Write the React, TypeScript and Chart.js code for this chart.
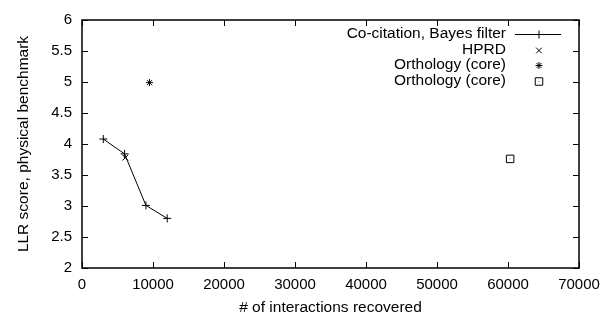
import React, { useEffect, useRef } from 'react';
import { Chart, registerables } from 'chart.js';
import { drawPoint } from 'chart.js/helpers';

Chart.register(...registerables);

const coCitationX = [3000, 6000, 9000, 12000];
const coCitationY = [4.08, 3.84, 3.01, 2.8];
const hprdX = [6100];
const hprdY = [3.78];
const orthoStarX = [9500];
const orthoStarY = [4.99];
const orthoBoxX = [60300];
const orthoBoxY = [3.76];
const seriesLabels = ['Co-citation, Bayes filter', 'HPRD', 'Orthology (core)', 'Orthology (core)'];
const seriesStyles = ['cross', 'crossRot', 'star', 'rect'];
const seriesRadius = [4, 4, 3.5, 5.3];
const xTickValues = [0, 10000, 20000, 30000, 40000, 50000, 60000, 70000];
const yTickValues = [2, 2.5, 3, 3.5, 4, 4.5, 5, 5.5, 6];
const xTitle = '# of interactions recovered';
const yTitle = 'LLR score, physical benchmark';

const FONT = '"Liberation Sans", Arial, Helvetica, sans-serif';

const zip = (xs: number[], ys: number[]) => xs.map((x, i) => ({ x, y: ys[i] }));

const framePlugin = {
  id: 'gnuplotFrame',
  afterDatasetsDraw(chart: any) {
    const { ctx, chartArea, scales } = chart;
    const { left, right, top, bottom } = chartArea;
    ctx.save();
    ctx.strokeStyle = '#000';
    ctx.lineWidth = 1;
    const tl = 6;
    ctx.beginPath();
    xTickValues.forEach((v) => {
      const px = Math.round(scales.x.getPixelForValue(v)) + 0.5;
      ctx.moveTo(px, bottom);
      ctx.lineTo(px, bottom - tl);
      ctx.moveTo(px, top);
      ctx.lineTo(px, top + tl);
    });
    yTickValues.forEach((v) => {
      const py = Math.round(scales.y.getPixelForValue(v)) + 0.5;
      ctx.moveTo(left, py);
      ctx.lineTo(left + tl, py);
      ctx.moveTo(right, py);
      ctx.lineTo(right - tl, py);
    });
    ctx.stroke();
    ctx.lineWidth = 1.5;
    ctx.strokeRect(left, top, right - left, bottom - top);

    // center dot of boxed point
    const meta = chart.getDatasetMeta(3);
    meta.data.forEach((el: any) => {
      ctx.fillStyle = '#777';
      ctx.fillRect(Math.round(el.x) - 0.5, Math.round(el.y) - 0.5, 1, 1);
    });

    // legend
    ctx.font = `15.5px ${FONT}`;
    ctx.textAlign = 'right';
    ctx.textBaseline = 'middle';
    const textRight = 506;
    const sampleL = 515;
    const sampleR = 561;
    const markX = 539;
    seriesLabels.forEach((lab, i) => {
      const y = 34 + i * 15.5;
      ctx.fillStyle = '#000';
      ctx.fillText(lab, textRight, y);
      const my = Math.round(y) + 0.5;
      ctx.lineWidth = 1;
      ctx.strokeStyle = '#000';
      if (i === 0) {
        ctx.beginPath();
        ctx.moveTo(sampleL, my);
        ctx.lineTo(sampleR, my);
        ctx.stroke();
      }
      ctx.fillStyle = 'rgba(0,0,0,0)';
      drawPoint(ctx, { pointStyle: seriesStyles[i] as any, radius: seriesRadius[i], rotation: 0, borderWidth: 1 } as any, markX, my);
      if (i === 3) {
        ctx.fillStyle = '#777';
        ctx.fillRect(markX - 0.5, my - 0.5, 1, 1);
      }
    });
    ctx.restore();
  },
};

export default function App() {
  const ref = useRef<HTMLCanvasElement | null>(null);
  useEffect(() => {
    if (!ref.current) return;
    const common = {
      borderColor: '#000',
      backgroundColor: 'rgba(0,0,0,0)',
      pointBorderColor: '#000',
      pointBackgroundColor: 'rgba(0,0,0,0)',
      pointBorderWidth: 1,
    };
    const chart = new Chart(ref.current, {
      type: 'scatter',
      data: {
        datasets: [
          { ...common, label: seriesLabels[0], data: zip(coCitationX, coCitationY), showLine: true, borderWidth: 1, pointStyle: seriesStyles[0] as any, pointRadius: seriesRadius[0] },
          { ...common, label: seriesLabels[1], data: zip(hprdX, hprdY), pointStyle: seriesStyles[1] as any, pointRadius: seriesRadius[1] },
          { ...common, label: seriesLabels[2], data: zip(orthoStarX, orthoStarY), pointStyle: seriesStyles[2] as any, pointRadius: seriesRadius[2] },
          { ...common, label: seriesLabels[3], data: zip(orthoBoxX, orthoBoxY), pointStyle: seriesStyles[3] as any, pointRadius: seriesRadius[3] },
        ],
      },
      options: {
        animation: false,
        responsive: true,
        maintainAspectRatio: false,
        layout: { padding: { top: 20, right: 25, left: 0, bottom: 0 } },
        plugins: { legend: { display: false }, tooltip: { enabled: false } },
        scales: {
          x: {
            type: 'linear',
            min: 0,
            max: 70000,
            afterFit: (s: any) => { s.height = 48; s.paddingLeft = 0; s.paddingRight = 0; },
            afterBuildTicks: (s: any) => { s.ticks = xTickValues.map((v) => ({ value: v })); },
            grid: { display: false, drawTicks: false },
            border: { display: false },
            ticks: { padding: 8, color: '#000', font: { family: FONT, size: 15 }, maxRotation: 0, autoSkip: false, callback: (v: any) => String(v) },
            title: { display: true, text: xTitle, color: '#000', font: { family: FONT, size: 15.5 }, padding: { top: 0, bottom: -1 } },
          },
          y: {
            type: 'linear',
            min: 2,
            max: 6,
            afterFit: (s: any) => { s.width = 82; s.paddingTop = 0; s.paddingBottom = 0; },
            afterBuildTicks: (s: any) => { s.ticks = yTickValues.map((v) => ({ value: v })); },
            grid: { display: false, drawTicks: false },
            border: { display: false },
            ticks: { padding: 10, color: '#000', font: { family: FONT, size: 15 }, autoSkip: false, callback: (v: any) => String(v) },
            title: { display: true, text: yTitle, color: '#000', font: { family: FONT, size: 15.5 }, padding: { top: 14, bottom: 0 } },
          },
        },
      },
      plugins: [framePlugin],
    });
    return () => chart.destroy();
  }, []);
  return (
    <div style={{ position: 'absolute', left: 0, top: 0, width: 604, height: 316, background: '#fff' }}>
      <canvas ref={ref} />
    </div>
  );
}
